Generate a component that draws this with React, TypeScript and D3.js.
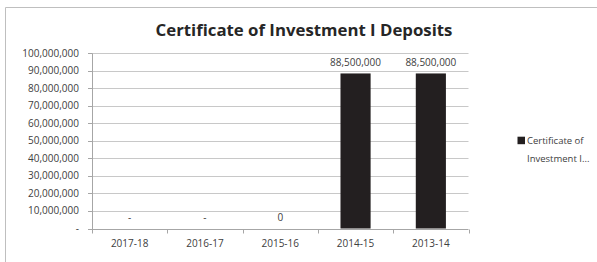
import React, { useEffect, useRef } from 'react';
import * as d3 from 'd3';

const years = ['2017-18', '2016-17', '2015-16', '2014-15', '2013-14'];
const deposits = [0, 0, 0, 88500000, 88500000];
const dataLabels = ['-', '-', '0', '88,500,000', '88,500,000'];
const yTicks = [0, 10000000, 20000000, 30000000, 40000000, 50000000, 60000000, 70000000, 80000000, 90000000, 100000000];
const seriesName = ['Certificate of', 'Investment I...'];
const chartTitle = 'Certificate of Investment I Deposits';

const W = 597;
const H = 262;
const FONT = '"Open Sans", "Noto Sans", sans-serif';

const App = () => {
  const svgRef = useRef<SVGSVGElement>(null);

  useEffect(() => {
    if (!svgRef.current) return;
    const svg = d3.select(svgRef.current);
    svg.selectAll('*').remove();

    const left = 92, right = 468.5, top = 53.3, bottom = 228.5;

    const x = d3.scaleBand<string>().domain(years).range([left, right]).paddingInner(0.6).paddingOuter(0.3);
    const band = d3.scaleBand<string>().domain(years).range([left, right]);
    const y = d3.scaleLinear().domain([0, 100000000]).range([bottom, top]);

    // chart border (only top and left visible in the frame)
    svg.append('path')
      .attr('d', `M5.5,${H} V7.5 H${W}`)
      .attr('fill', 'none')
      .attr('stroke', '#bfbfbf')
      .attr('stroke-width', 1);

    svg.append('text')
      .attr('x', 304)
      .attr('y', 36)
      .attr('text-anchor', 'middle')
      .style('font-family', FONT)
      .style('font-size', '16.8px')
      .style('font-weight', 'bold')
      .style('fill', '#262626')
      .text(chartTitle);

    // gridlines + y ticks
    const grid = svg.append('g');
    yTicks.forEach(t => {
      const yy = Math.round(y(t)) + 0.5;
      if (t > 0) {
        grid.append('line')
          .attr('x1', left).attr('x2', right)
          .attr('y1', yy).attr('y2', yy)
          .attr('stroke', '#c8c8c8');
      }
      grid.append('line')
        .attr('x1', left - 4).attr('x2', left)
        .attr('y1', yy).attr('y2', yy)
        .attr('stroke', '#a6a6a6');
      grid.append('text')
        .attr('x', 79)
        .attr('y', y(t))
        .attr('dy', '0.35em')
        .attr('text-anchor', 'end')
        .style('font-family', FONT)
        .style('font-size', '10px')
        .style('fill', '#404040')
        .text(t === 0 ? '-' : d3.format(',')(t));
    });

    // bars
    svg.append('g')
      .selectAll('rect')
      .data(deposits)
      .enter().append('rect')
      .attr('x', (d, i) => x(years[i]) as number)
      .attr('width', x.bandwidth())
      .attr('y', d => y(d))
      .attr('height', d => bottom - y(d))
      .attr('fill', '#231f20');

    // data labels
    svg.append('g')
      .selectAll('text')
      .data(deposits)
      .enter().append('text')
      .attr('x', (d, i) => (x(years[i]) as number) + x.bandwidth() / 2)
      .attr('y', d => y(d) - 10.8)
      .attr('dy', '0.35em')
      .attr('text-anchor', 'middle')
      .style('font-family', FONT)
      .style('font-size', '10px')
      .style('fill', '#404040')
      .text((d, i) => dataLabels[i]);

    // axes lines
    const by = Math.round(bottom) + 0.5;
    svg.append('line')
      .attr('x1', left + 0.5).attr('x2', left + 0.5)
      .attr('y1', top).attr('y2', by)
      .attr('stroke', '#a6a6a6');
    svg.append('line')
      .attr('x1', left).attr('x2', right)
      .attr('y1', by).attr('y2', by)
      .attr('stroke', '#a6a6a6');
    const bounds = years.map(c => band(c) as number).concat([right]);
    bounds.forEach(b => {
      const bx = Math.round(b) + 0.5;
      svg.append('line')
        .attr('x1', bx).attr('x2', bx)
        .attr('y1', by).attr('y2', by + 4)
        .attr('stroke', '#a6a6a6');
    });

    svg.append('g')
      .selectAll('text')
      .data(years)
      .enter().append('text')
      .attr('x', d => (band(d) as number) + band.bandwidth() / 2)
      .attr('y', 243.3)
      .attr('dy', '0.35em')
      .attr('text-anchor', 'middle')
      .style('font-family', FONT)
      .style('font-size', '10px')
      .style('fill', '#404040')
      .text(d => d);

    // legend
    const lg = svg.append('g');
    lg.append('rect')
      .attr('x', 517.5).attr('y', 136.7)
      .attr('width', 7.5).attr('height', 7.5)
      .attr('fill', '#231f20');
    seriesName.forEach((s, i) => {
      lg.append('text')
        .attr('x', 527)
        .attr('y', 140.4 + i * 18)
        .attr('dy', '0.35em')
        .style('font-family', FONT)
        .style('font-size', '9.5px')
        .style('fill', '#404040')
        .text(s);
    });
  }, []);

  return (
    <svg
      ref={svgRef}
      width={W}
      height={H}
      style={{ position: 'absolute', left: 0, top: 0, background: '#fff' }}
    />
  );
};

export default App;
